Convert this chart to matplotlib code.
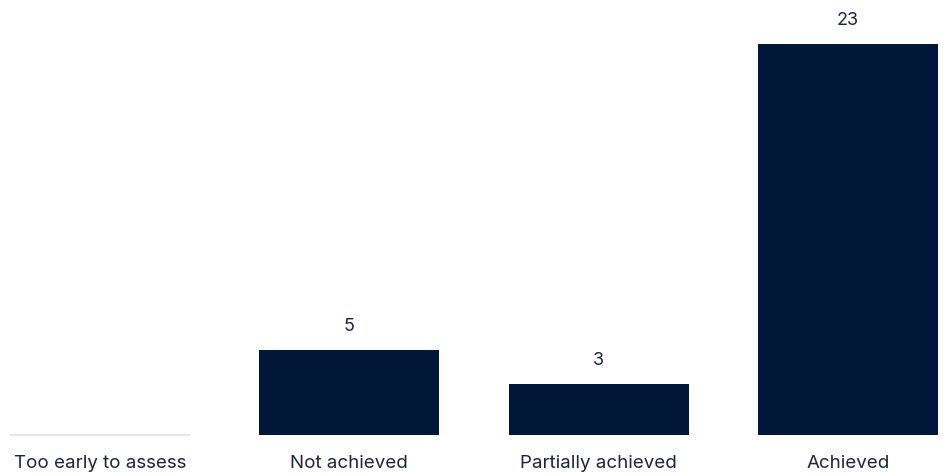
import matplotlib
matplotlib.use("Agg")
import matplotlib.pyplot as plt

categories = ["Too early to assess", "Not achieved", "Partially achieved", "Achieved"]
counts = [0, 5, 3, 23]

BAR = "#001738"
TEXT = "#1b2542"
ZERO_LINE = "#e4e4e4"

plt.rcParams["font.family"] = ["Inter", "DejaVu Sans"]

fig = plt.figure(figsize=(9.43, 4.74), dpi=100)
ax = fig.add_axes([0, 39 / 474, 1, 435 / 474])

x = list(range(len(categories)))
for xi, v in zip(x, counts):
    if v == 0:
        bars = ax.bar(xi, v, width=0.722, color=BAR, edgecolor=ZERO_LINE, linewidth=1.2)
        for b in bars:
            b.set_clip_on(False)
    else:
        ax.bar(xi, v, width=0.722, color=BAR, linewidth=0)
        ax.annotate(str(v), (xi, v), xytext=(0, 10.5), textcoords="offset points",
                    ha="center", va="bottom", fontsize=13, color=TEXT)

ax.set_xlim(-100 / 249.33, (943 - 100) / 249.33)
ax.set_ylim(0, 435 / 17)
ax.set_xticks(x)
ax.set_xticklabels(categories, fontsize=13.5, color=TEXT)
ax.tick_params(axis="x", length=0, pad=14.5)
ax.set_yticks([])
for s in ax.spines.values():
    s.set_visible(False)

fig.savefig("out.png", dpi=100)
